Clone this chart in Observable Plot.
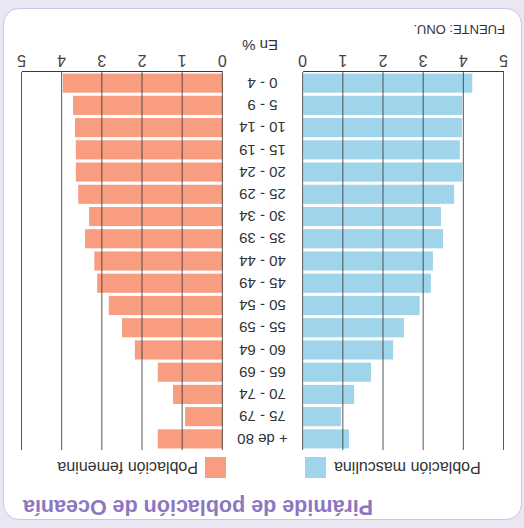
<!DOCTYPE html>
<html>
<head>
<meta charset="utf-8">
<script src="https://cdn.jsdelivr.net/npm/d3@7"></script>
<script src="https://cdn.jsdelivr.net/npm/@observablehq/plot@0.6"></script>
<style>
  html, body { margin: 0; padding: 0; background: #e9e7f3; }
  #wrap { position: relative; width: 524px; height: 528px; overflow: hidden;
          transform: rotate(180deg); background: #e9e7f3;
          font-family: "Liberation Sans", Arial, sans-serif; color: #333; }
  .card { position: absolute; left: 2px; top: 8px; width: 517px; height: 510px;
          border: 1.5px solid #cbc6df; border-radius: 16px; background: #fff; }
  .abs { position: absolute; white-space: nowrap; }
  #title { right: 23px; top: 9px; font-size: 21.5px; font-weight: bold; color: #8d77bf; }
  .sw { position: absolute; width: 21px; height: 21px; top: 50px; }
  .leg { top: 52px; font-size: 16px; color: #333; }
  #chart { position: absolute; left: 0; top: 0; }
</style>
</head>
<body>
<div id="wrap">
  <div class="card"></div>
  <div id="title" class="abs">Pirámide de población de Oceanía</div>
  <div class="abs leg" style="right:334px;">Población masculina</div>
  <div class="sw" style="left:198px;background:#9fd4eb;"></div>
  <div class="sw" style="left:298px;background:#f89d80;"></div>
  <div class="abs leg" style="left:326px;">Población femenina</div>
  <div id="chart"></div>
  <div class="abs" style="left:246px;top:474px;font-size:15px;">En %</div>
  <div class="abs" style="left:19px;top:491px;font-size:13px;">FUENTE: ONU.</div>
</div>
<script>
const ages = ["0 - 4","5 - 9","10 - 14","15 - 19","20 - 24","25 - 29","30 - 34","35 - 39","40 - 44","45 - 49","50 - 54","55 - 59","60 - 64","65 - 69","70 - 74","75 - 79","+ de 80"];
const male = [4.21,3.96,3.95,3.9,3.96,3.76,3.43,3.48,3.23,3.18,2.9,2.51,2.24,1.69,1.27,0.94,1.14];
const female = [3.98,3.73,3.68,3.66,3.66,3.6,3.33,3.43,3.2,3.13,2.84,2.51,2.19,1.62,1.24,0.94,1.62];
const tickValues = [0,1,2,3,4,5];

const blue = "#9fd4eb";
const salmon = "#f89d80";
const gap = 1; // half-gap (in %) for the central label column

const rows = ages.map((a, i) => ({age: a, i, male: male[i], female: female[i]}));
const ticks = [...tickValues.map(t => -(t + gap)), ...tickValues.map(t => t + gap)];

const chart = Plot.plot({
  width: 524,
  height: 528,
  marginLeft: 20,
  marginRight: 22,
  marginTop: 78,
  marginBottom: 72,
  style: {background: "transparent", fontFamily: "Liberation Sans, Arial, sans-serif"},
  x: {domain: [-(5 + gap), 5 + gap]},
  y: {domain: [0, ages.length], axis: null},
  marks: [
    Plot.rectX(rows, {x1: -gap, x2: d => -(d.male + gap), y1: d => d.i + 0.07, y2: d => d.i + 0.93, fill: blue}),
    Plot.rectX(rows, {x1: gap, x2: d => d.female + gap, y1: d => d.i + 0.07, y2: d => d.i + 0.93, fill: salmon}),
    Plot.ruleX(ticks, {stroke: "#3a3a3a", strokeWidth: 1, strokeOpacity: 0.85}),
    Plot.ruleY([0], {x1: -(5 + gap), x2: -gap, stroke: "#3a3a3a"}),
    Plot.ruleY([0], {x1: gap, x2: 5 + gap, stroke: "#3a3a3a"}),
    Plot.text(rows, {x: 0, y: d => d.i + 0.5, text: "age", fontSize: 15, fill: "#333"}),
    Plot.axisX(ticks, {anchor: "bottom", tickSize: 0, tickPadding: 5, fontSize: 16, fill: "#444",
      tickFormat: d => String(Math.abs(d) - gap), label: null})
  ]
});
document.getElementById("chart").appendChild(chart);
</script>
</body>
</html>
